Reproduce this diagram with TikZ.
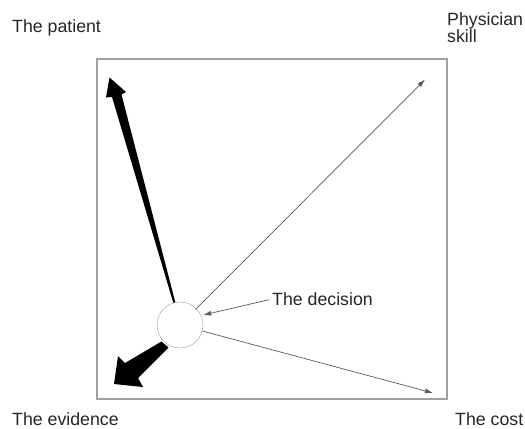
\documentclass[tikz,border=0pt]{standalone}
\usepackage{fontspec}
\setmainfont{Liberation Sans}
\usetikzlibrary{positioning, arrows.meta}
\tikzset{
x=1bp, y=-1bp, % one unit is one pixel of the picture, y runs downwards
>={Latex[length=8bp, width=5bp]}, % small solid arrow heads
frame/.style={draw=gray!75, line width=1.3bp}, % the square round the picture
decision/.style={circle, draw=gray!80, fill=white, minimum size=46bp, inner sep=0pt}, % the circle in the middle
corner/.style={font=\fontsize{17.8}{17.3}\selectfont, text=black!85, inner sep=0pt, align=left}, % the four labels
thin arrow/.style={->, draw=gray!70!black, line width=0.7bp},
bold arrow/.style={fill=black},
}

\begin{document}
\begin{tikzpicture}
            \useasboundingbox (0,0) rectangle (525,428);
            \draw[frame] (97,59) rectangle (447,399);
            % corner labels
            \node[corner, anchor=base west] (patient) at (12,32.5) {The patient};
            \node[corner, anchor=base west] (skill) at (447,42.3) {Physician\\skill};
            \node[corner, anchor=base west] (evidence) at (12,425) {The evidence};
            \node[corner, anchor=base west] (cost) at (455,425) {The cost};
            % tips of the thin arrows
            \coordinate (skilltip) at (425,79.5);
            \coordinate (costtip) at (433,393);
            % the heavy arrows
            \fill[bold arrow] (173.5,303.5) -- (112,97) -- (106,97.5) -- (109.5,77.5)
                -- (126,92) -- (121.5,94.5) -- (175.5,303) -- cycle;
            \fill[bold arrow] (161.5,341.5) -- (125,363) -- (118,356) -- (114,384)
                -- (143,387) -- (138,378) -- (168.5,347.5) -- cycle;
            \node[decision] (dec) at (180,325) {};
            \node[corner, anchor=west] (label) at (272,299) {The decision};
            \draw
                (dec) edge[thin arrow, shorten <=-1bp] (skilltip)
                (dec) edge[thin arrow] (costtip)
                (label.west) edge[thin arrow, shorten <=3bp] (dec.east |- 0,315)
                ;
            \end{tikzpicture}
\end{document}
